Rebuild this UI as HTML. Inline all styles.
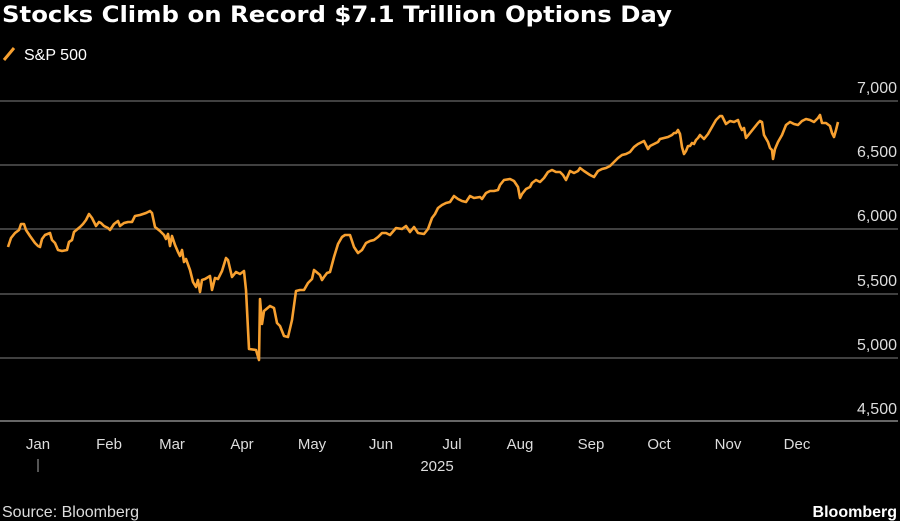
<!DOCTYPE html>
<html><head><meta charset="utf-8"><style>
body{margin:0;background:#000;width:900px;height:521px;overflow:hidden;font-family:"Liberation Sans",sans-serif;}
</style></head><body>
<svg width="900" height="521" xmlns="http://www.w3.org/2000/svg" style="position:absolute;left:0;top:0">
<rect width="900" height="521" fill="#000"/>
<text x="2" y="22" fill="#fff" font-size="22" font-weight="bold" textLength="670" lengthAdjust="spacingAndGlyphs" font-family="DejaVu Sans, sans-serif">Stocks Climb on Record $7.1 Trillion Options Day</text>
<line x1="4" y1="60" x2="14" y2="48" stroke="#f7a030" stroke-width="3"/>
<text x="24" y="60" fill="#fff" font-size="16" font-family="Liberation Sans, sans-serif">S&amp;P 500</text>
<g stroke="#555" stroke-width="1.5">
<line x1="0" y1="101" x2="898" y2="101"/>
<line x1="0" y1="165" x2="898" y2="165"/>
<line x1="0" y1="229" x2="898" y2="229"/>
<line x1="0" y1="294" x2="898" y2="294"/>
<line x1="0" y1="358" x2="898" y2="358"/>
<line x1="0" y1="421" x2="898" y2="421" stroke="#888"/>
</g>
<g fill="#ddd" font-size="16" text-anchor="end" font-family="Liberation Sans, sans-serif">
<text x="897" y="93">7,000</text>
<text x="897" y="157">6,500</text>
<text x="897" y="221">6,000</text>
<text x="897" y="286">5,500</text>
<text x="897" y="350">5,000</text>
<text x="897" y="414">4,500</text>
</g>
<g fill="#ddd" font-size="15" text-anchor="middle" font-family="Liberation Sans, sans-serif">
<text x="38" y="449">Jan</text><text x="109" y="449">Feb</text><text x="172" y="449">Mar</text>
<text x="242" y="449">Apr</text><text x="312" y="449">May</text><text x="381" y="449">Jun</text>
<text x="452" y="449">Jul</text><text x="520" y="449">Aug</text><text x="591" y="449">Sep</text>
<text x="659" y="449">Oct</text><text x="728" y="449">Nov</text><text x="797" y="449">Dec</text>
<text x="437" y="471">2025</text>
</g>
<line x1="38" y1="459" x2="38" y2="472" stroke="#aaa" stroke-width="1"/>
<polyline fill="none" stroke="#f7a030" stroke-width="2.6" stroke-linejoin="round" points="8,247 11,238 15,233 19,230 21,224 24,224 26,230 30,236 35,243 38,246 40,247 42,239 45,235 50,233 52,240 55,243 58,250 62,251 67,250 69,242 72,240 74,232 80,227 83,224 86,220 89,214 92,218 96,226 99,222 101,223 104,226 108,228 110,230 114,224 118,221 120,226 124,223 128,222 132,222 135,216 140,215 146,213 150,211 152,213 155,227 160,231 164,235 166,239 168,234 170,246 172,236 175,245 178,252 180,256 182,250 184,262 186,259 190,270 193,282 196,287 198,280 200,292 202,280 205,279 210,276 212,290 215,278 218,279 222,271 226,258 228,260 232,277 236,272 240,274 244,271 246,290 249,349 256,350 259,360 260,299 262,324 264,311 270,306 274,308 277,323 280,326 284,336 288,337 292,320 296,291 300,290 304,290 308,283 312,279 314,270 320,275 322,280 324,277 327,273 330,272 334,257 338,244 342,237 345,235 350,235 354,247 358,253 362,250 366,243 370,241 374,240 378,237 382,233 386,233 390,235 396,228 402,229 406,226 410,232 414,227 418,233 424,234 428,229 432,218 435,214 438,208 442,205 446,203 450,202 454,196 458,199 462,201 466,202 470,196 474,198 480,197 482,199 486,193 490,191 494,191 498,190 500,185 504,180 510,179 514,181 518,187 520,198 522,194 526,189 530,187 532,183 536,180 540,182 544,178 548,172 552,170 556,172 560,172 563,175 566,180 570,171 574,173 578,171 580,168 584,171 590,175 594,177 598,171 602,169 606,168 610,166 614,162 618,158 622,155 626,154 630,152 634,147 638,144 642,142 644,141 646,145 648,149 650,146 654,144 658,142 660,139 664,138 668,137 672,135 674,133 676,133 678,130 680,134 682,147 684,154 686,151 688,146 690,146 692,143 694,144 696,140 698,138 700,135 704,139 708,134 712,127 716,120 720,116 722,116 724,120 726,124 730,121 734,122 738,120 740,126 742,130 744,128 746,138 750,133 754,128 758,123 760,121 762,122 764,135 768,142 770,148 772,150 773,159 775,149 778,142 782,135 786,125 790,122 794,124 798,125 802,121 806,119 810,120 814,122 818,118 820,115 822,123 826,123 830,126 832,133 834,137 836,130 838,122"/>
<text x="2" y="517" fill="#ddd" font-size="16" font-family="Liberation Sans, sans-serif">Source: Bloomberg</text>
<text x="897" y="517" fill="#fff" font-size="16" font-weight="bold" text-anchor="end" font-family="Liberation Sans, sans-serif">Bloomberg</text>
</svg>
</body></html>
